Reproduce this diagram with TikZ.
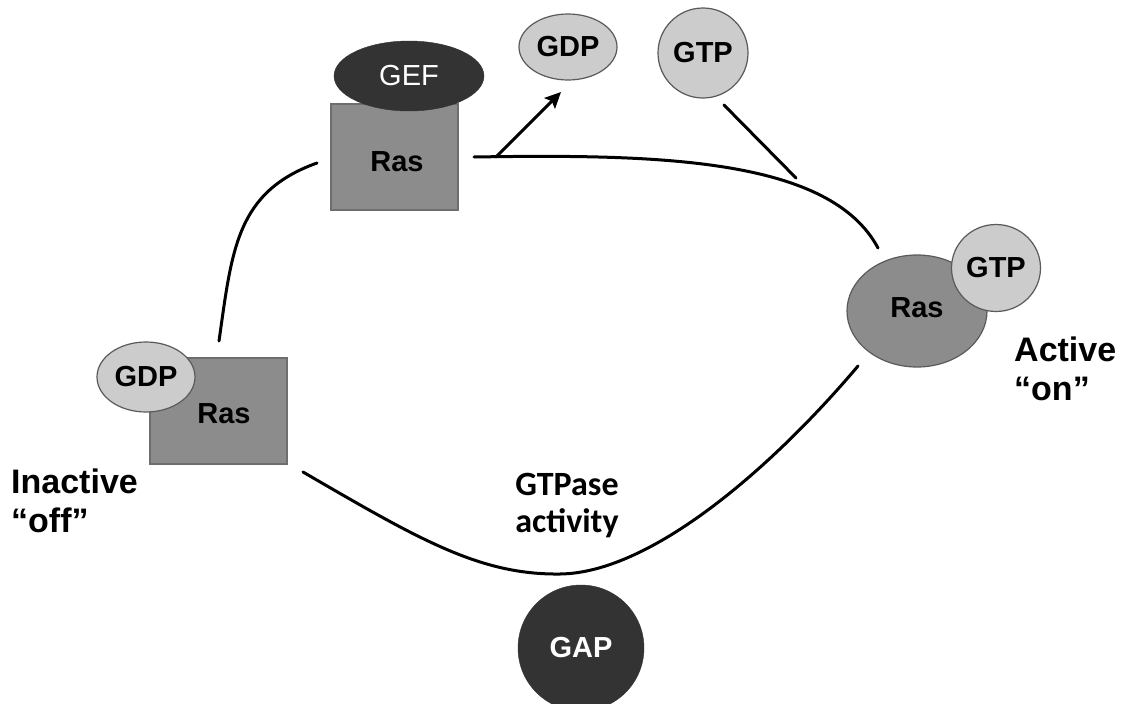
\documentclass[tikz,border=0pt]{standalone}
\usepackage{fontspec}
\setmainfont{Liberation Sans}
\newfontfamily\calfont{Carlito}
\usetikzlibrary{shapes.geometric,arrows.meta}
\definecolor{darkfill}{HTML}{333333}
\definecolor{rasfill}{HTML}{8C8C8C}
\definecolor{rasdraw}{HTML}{6E6E6E}
\definecolor{nucfill}{HTML}{CCCCCC}
\definecolor{nucdraw}{HTML}{5A5A5A}
\begin{document}
\begin{tikzpicture}[x=1pt,y=-1pt,
  dark/.style={ellipse,fill=darkfill,draw=darkfill,inner sep=0pt,text=white,font=\fontsize{29}{30}\selectfont},
  rasbox/.style={rectangle,fill=rasfill,draw=rasdraw,line width=1.2pt,inner sep=0pt},
  rasell/.style={ellipse,fill=rasfill,draw=nucdraw,line width=1.2pt,inner sep=0pt},
  rastext/.style={font=\bfseries\fontsize{29}{30}\selectfont},
  nuc/.style={ellipse,fill=nucfill,draw=nucdraw,line width=1.2pt,inner sep=0pt,font=\bfseries\fontsize{29}{30}\selectfont},
  lbl/.style={align=left,font=\bfseries\fontsize{34}{39}\selectfont},
  link/.style={line width=3pt,line cap=round}]
\useasboundingbox (0,0) rectangle (1122,704);
\fill[white] (0,0) rectangle (1122,704);
% top Ras + GEF
\node[rasbox,minimum width=127pt,minimum height=106pt] (rasA) at (394.5,157) {};
\node[rastext] (rasAt) at (397,162) {Ras};
\node[dark,minimum width=150pt,minimum height=70pt] (gef) at (409,76) {GEF};
% released GDP and incoming GTP
\node[nuc,minimum width=98pt,minimum height=66pt] (gdpT) at (568,47) {GDP};
\node[nuc,minimum width=90pt,minimum height=90pt] (gtpT) at (703,53) {GTP};
% left inactive Ras
\node[rasbox,minimum width=137pt,minimum height=106pt] (rasL) at (218.5,411) {};
\node[rastext] (rasLt) at (224,414) {Ras};
\node[nuc,minimum width=98pt,minimum height=70pt] (gdpL) at (146,377) {GDP};
% right active Ras
\node[rasell,minimum width=140pt,minimum height=112pt] (rasR) at (917,311) {};
\node[rastext] (rasRt) at (917,308) {Ras};
\node[nuc,minimum width=89pt,minimum height=87pt] (gtpR) at (996,268) {GTP};
% GAP
\node[dark,circle,minimum size=126pt,font=\bfseries\fontsize{29}{30}\selectfont] (gap) at (581,648) {GAP};
% labels
\node[lbl,anchor=base west,inner sep=0pt] (inact) at (11,532) {Inactive\\``off''};
\node[lbl,anchor=base west,inner sep=0pt] (act) at (1014,400) {Active\\``on''};
\node[align=center,anchor=base,inner sep=0pt,font=\calfont\bfseries\fontsize{34}{37}\selectfont] (gtpase) at (567,532) {GTPase\\activity};
% connector end points
\coordinate (a1) at (219,341);
\coordinate (a2) at (317,163);
\coordinate (b1) at (474,157);
\coordinate (b2) at (878,248);
\coordinate (br) at (496,157);
\coordinate (ah) at (561,92);
\coordinate (g1) at (724,105);
\coordinate (g2) at (796,178);
\coordinate (c1) at (303,472);
\coordinate (c2) at (560,574);
\coordinate (c3) at (858,366);
\draw[link] (a1) .. controls (232,250) and (236,192) .. (a2);
\draw[link] (b1) .. controls (660,154) and (830,158) .. (b2);
\draw[link,-{Stealth[length=16pt,width=15pt,inset=3pt]}] (br) -- (ah);
\draw[link] (g1) -- (g2);
\draw[link] (c1) .. controls (420,540) and (480,575) .. (c2) .. controls (650,573) and (770,470) .. (c3);
\end{tikzpicture}
\end{document}
